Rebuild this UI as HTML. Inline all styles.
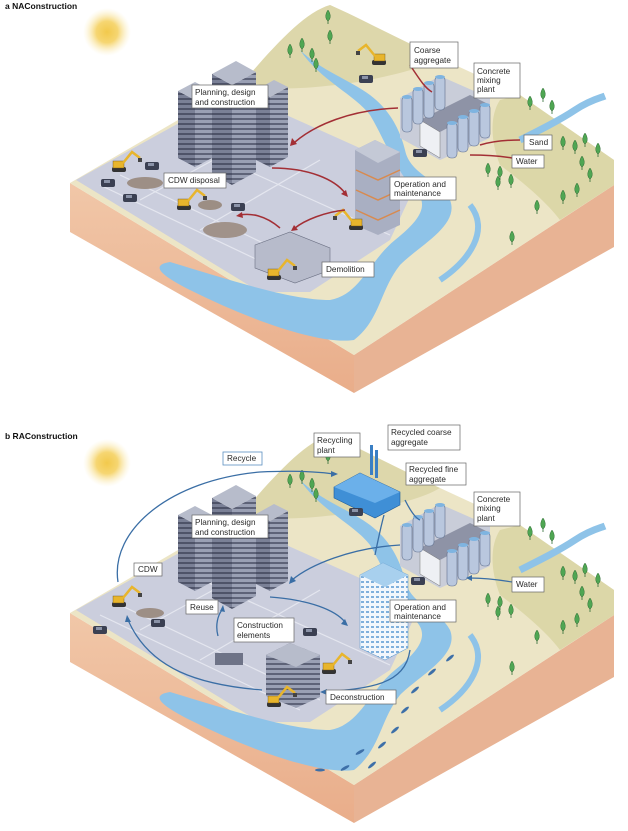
<!DOCTYPE html>
<html><head><meta charset="utf-8"><style>
html,body{margin:0;padding:0;background:#fff;}
svg{display:block}
.lb{font-family:"Liberation Sans",sans-serif;font-size:8.2px;fill:#2a2a2a}
.bx{fill:#fff;stroke:#666;stroke-width:0.7}
.bxb{fill:#fff;stroke:#5b8fc0;stroke-width:0.8}
.ttl{font-family:"Liberation Sans",sans-serif;font-weight:bold;font-size:8.5px;fill:#111}
</style></head><body>
<svg width="628" height="831" viewBox="0 0 628 831" xmlns="http://www.w3.org/2000/svg">
<defs>
<radialGradient id="sun"><stop offset="0" stop-color="#f2c94c"/><stop offset="0.45" stop-color="#f6d672"/><stop offset="1" stop-color="#fbefc4" stop-opacity="0"/></radialGradient>
<pattern id="win" width="6" height="5" patternUnits="userSpaceOnUse"><rect width="6" height="5" fill="#9aa0b4"/><rect y="3" width="6" height="2" fill="#5e6378"/></pattern>
<pattern id="win2" width="6" height="5" patternUnits="userSpaceOnUse"><rect width="6" height="5" fill="#7a8096"/><rect y="3" width="6" height="2" fill="#4e5368"/></pattern>
<pattern id="winw" width="5" height="5" patternUnits="userSpaceOnUse"><rect width="5" height="5" fill="#f2f7fc"/><rect x="1" y="1" width="3" height="2" fill="#7fb0dc"/></pattern>
<linearGradient id="sideL" x1="0" y1="0" x2="0" y2="1"><stop offset="0" stop-color="#f1c7a8"/><stop offset="1" stop-color="#e9ad8a"/></linearGradient>
<g id="tree"><path d="M0,-12 C3,-8 3,-3 0,-1 C-3,-3 -3,-8 0,-12Z" fill="#4fa653" stroke="#2f6b34" stroke-width="0.5"/><line x1="0" y1="-2" x2="0" y2="2" stroke="#2f6b34" stroke-width="0.8"/></g>
<g id="exc"><rect x="-8" y="-3" width="14" height="5" rx="2" fill="#333"/><rect x="-7" y="-9" width="11" height="7" fill="#e8b52c" stroke="#6b5210" stroke-width="0.4"/><path d="M3,-7 L12,-18 L20,-12" fill="none" stroke="#e8b52c" stroke-width="2.5"/><rect x="18" y="-12" width="4" height="4" fill="#444"/></g>
<g id="car"><rect x="-7" y="-4" width="14" height="8" rx="2" fill="#3b4052"/><rect x="-4" y="-3" width="6" height="3" fill="#8b93a8"/></g>
<g id="plant">
<path d="M400,98 l40,-22 l50,22 l0,40 l-50,22 l-40,-22z" fill="#c9cdd9"/>
<path d="M420,120 L470,95 L490,105 L440,132Z" fill="#8e93a6"/>
<path d="M420,120 L440,132 L440,158 L420,146Z" fill="#eef0f4" stroke="#777" stroke-width="0.5"/>
<g fill="#b9c7de" stroke="#5f6f8c" stroke-width="0.6">
<rect x="402" y="96" width="10" height="36" rx="4"/><rect x="413" y="88" width="10" height="36" rx="4"/><rect x="424" y="82" width="10" height="36" rx="4"/><rect x="435" y="76" width="10" height="34" rx="4"/>
<rect x="480" y="104" width="10" height="34" rx="4"/><rect x="469" y="110" width="10" height="36" rx="4"/><rect x="458" y="116" width="10" height="36" rx="4"/><rect x="447" y="122" width="10" height="36" rx="4"/>
</g>
<g fill="#7fb4e0"><ellipse cx="407" cy="97" rx="5" ry="2"/><ellipse cx="418" cy="89" rx="5" ry="2"/><ellipse cx="429" cy="83" rx="5" ry="2"/><ellipse cx="440" cy="77" rx="5" ry="2"/><ellipse cx="485" cy="105" rx="5" ry="2"/><ellipse cx="474" cy="111" rx="5" ry="2"/><ellipse cx="463" cy="117" rx="5" ry="2"/><ellipse cx="452" cy="123" rx="5" ry="2"/></g>
</g>
<g id="towers">
<polygon points="195,167 178,158 178,91 195,100" fill="url(#win2)"/>
<polygon points="195,167 212,158 212,91 195,100" fill="url(#win)"/>
<polygon points="195,100 178,91 195,82 212,91" fill="#b7bccb"/>
<polygon points="270,167 256,160 256,90 270,97" fill="url(#win2)"/>
<polygon points="270,167 288,157 288,87 270,97" fill="url(#win)"/>
<polygon points="270,97 256,90 274,80 288,87" fill="#b7bccb"/>
<polygon points="232,185 212,174 212,74 232,85" fill="url(#win2)"/>
<polygon points="232,185 256,172 256,72 232,85" fill="url(#win)"/>
<polygon points="232,85 212,74 236,61 256,72" fill="#b7bccb"/>
</g>
<g id="base">
<!-- sides -->
<polygon points="70,183 354,355 354,393 70,232" fill="url(#sideL)"/>
<polygon points="354,355 614,185 614,247 354,393" fill="#e8b394"/>
<!-- top -->
<polygon points="70,183 250,78 330,5 440,58 520,95 614,160 614,185 354,355" fill="#ece5c6"/>
<!-- hill -->
<path d="M245,80 C275,45 305,12 330,5 C360,18 400,40 440,58 C420,70 390,75 370,80 C340,85 300,90 270,88Z" fill="#ddd7ab"/>
<path d="M500,100 L520,95 L614,160 L614,185 L560,220 C545,200 520,180 500,165 C490,140 490,115 500,100Z" fill="#dcd7a8"/>
<!-- paved -->
<polygon points="76,180 235,92 420,175 390,240 310,292 260,292" fill="#cbcedd"/>
<path d="M100,185 L300,280 M120,175 L320,270 M180,140 L390,235 M140,200 L250,140 M200,230 L320,160" stroke="#e4e6ef" stroke-width="1.2" fill="none"/>
<!-- river -->
<path d="M300,50 C320,70 350,80 370,95 C390,110 400,130 405,150 C410,175 440,180 450,200 C460,225 420,245 400,265 C380,290 380,320 354,340 C320,345 250,320 190,290 C160,275 150,265 170,262 C230,280 290,300 330,300 C360,295 370,260 395,240 C420,220 430,205 415,190 C395,170 385,140 370,115 C355,95 320,80 300,50Z" fill="#8ec3e8"/>
<path d="M520,140 C540,130 560,120 575,110 C590,100 600,98 605,96" stroke="#8ec3e8" stroke-width="7" fill="none"/>
<path d="M470,205 C490,230 470,260 440,280" stroke="#8ec3e8" stroke-width="6" fill="none"/>
</g>
</defs>

<!-- PANEL A -->
<text x="5" y="9" class="ttl">a NAConstruction</text>
<circle cx="107" cy="32" r="24" fill="url(#sun)"/>
<use href="#base"/>
<use href="#towers"/>
<use href="#plant"/>
<polygon points="355,150 375,140 400,152 400,225 378,235 355,225" fill="#a9afc2"/>
<polygon points="375,140 400,152 378,163 355,150" fill="#c4c9d6"/>
<path d="M356,170 L378,180 L400,170 M356,190 L378,200 L400,190 M356,210 L378,220 L400,210" stroke="#d88a4f" stroke-width="1.5" fill="none"/>
<polygon points="255,245 290,232 330,248 330,270 295,283 255,268" fill="#b7bbcb" stroke="#6a6f82" stroke-width="0.6"/>
<use href="#exc" transform="translate(355,228) scale(-1,1)"/>
<use href="#exc" transform="translate(275,278)"/>
<use href="#exc" transform="translate(120,170)"/>
<use href="#exc" transform="translate(185,208)"/>
<use href="#exc" transform="translate(378,63) scale(-1,1)"/>
<ellipse cx="145" cy="183" rx="18" ry="6" fill="#9d8f86"/><ellipse cx="225" cy="230" rx="22" ry="8" fill="#a0928a"/><ellipse cx="210" cy="205" rx="12" ry="5" fill="#9c8e84"/>
<use href="#car" transform="translate(108,183)"/><use href="#car" transform="translate(130,198)"/><use href="#car" transform="translate(238,207)"/><use href="#car" transform="translate(366,79)"/><use href="#car" transform="translate(420,153)"/><use href="#car" transform="translate(152,166)"/>
<g><use href="#tree" x="328" y="22"/><use href="#tree" x="330" y="42"/><use href="#tree" x="302" y="50"/><use href="#tree" x="290" y="56"/><use href="#tree" x="312" y="60"/><use href="#tree" x="316" y="70"/><use href="#tree" x="543" y="100"/><use href="#tree" x="530" y="108"/><use href="#tree" x="552" y="112"/><use href="#tree" x="563" y="148"/><use href="#tree" x="575" y="152"/><use href="#tree" x="585" y="145"/><use href="#tree" x="598" y="155"/><use href="#tree" x="582" y="168"/><use href="#tree" x="590" y="180"/><use href="#tree" x="488" y="175"/><use href="#tree" x="500" y="178"/><use href="#tree" x="498" y="188"/><use href="#tree" x="511" y="186"/><use href="#tree" x="577" y="195"/><use href="#tree" x="563" y="202"/><use href="#tree" x="537" y="212"/><use href="#tree" x="512" y="243"/></g>
<g fill="none" stroke="#a32f35" stroke-width="1.5">
<path d="M398,108 C350,110 315,125 295,142"/>
<path d="M272,168 C310,168 335,180 345,193"/>
<path d="M345,210 C325,212 305,220 295,228"/>
<path d="M280,228 C265,215 250,213 240,215"/>
<path d="M410,65 C420,80 425,88 432,92"/>
<path d="M520,140 C505,140 490,142 480,145"/>
<path d="M512,158 C500,156 485,155 470,155"/>
</g>
<g fill="#a32f35"><path d="M290,146 l2,-8 l5,6z"/><path d="M348,197 l-7,-3 l5,-4z"/><path d="M291,231 l3,-6 l4,5z"/><path d="M236,216 l6,-4 l1,6z"/></g>
<rect class="bx" x="410" y="42" width="48" height="26"/><text class="lb" x="414" y="53">Coarse</text><text class="lb" x="414" y="63">aggregate</text>
<rect class="bx" x="474" y="63" width="46" height="35"/><text class="lb" x="477" y="74">Concrete</text><text class="lb" x="477" y="83">mixing</text><text class="lb" x="477" y="92">plant</text>
<rect class="bx" x="192" y="85" width="76" height="23"/><text class="lb" x="195" y="95">Planning, design</text><text class="lb" x="195" y="105">and construction</text>
<rect class="bx" x="524" y="135" width="28" height="15"/><text class="lb" x="529" y="145">Sand</text>
<rect class="bx" x="512" y="155" width="32" height="13"/><text class="lb" x="516" y="164">Water</text>
<rect class="bx" x="164" y="173" width="62" height="15"/><text class="lb" x="168" y="183">CDW disposal</text>
<rect class="bx" x="390" y="177" width="66" height="23"/><text class="lb" x="394" y="187">Operation and</text><text class="lb" x="394" y="196">maintenance</text>
<rect class="bx" x="322" y="262" width="52" height="15"/><text class="lb" x="326" y="272">Demolition</text>

<!-- PANEL B -->
<text x="5" y="439" class="ttl">b RAConstruction</text>
<circle cx="107" cy="463" r="24" fill="url(#sun)"/>
<g transform="translate(0,430)"><use href="#base"/></g>
<g fill="#3d6fa8"><ellipse cx="320" cy="770" rx="5" ry="1.5"/><ellipse cx="345" cy="768" rx="5" ry="1.5" transform="rotate(-30 345 768)"/><ellipse cx="372" cy="765" rx="5" ry="1.5" transform="rotate(-40 372 765)"/><ellipse cx="360" cy="752" rx="5" ry="1.5" transform="rotate(-30 360 752)"/><ellipse cx="382" cy="745" rx="5" ry="1.5" transform="rotate(-40 382 745)"/><ellipse cx="395" cy="730" rx="5" ry="1.5" transform="rotate(-40 395 730)"/><ellipse cx="405" cy="710" rx="5" ry="1.5" transform="rotate(-40 405 710)"/><ellipse cx="415" cy="690" rx="5" ry="1.5" transform="rotate(-40 415 690)"/><ellipse cx="432" cy="672" rx="5" ry="1.5" transform="rotate(-40 432 672)"/><ellipse cx="450" cy="658" rx="5" ry="1.5" transform="rotate(-40 450 658)"/></g>
<g transform="translate(0,424)"><use href="#towers"/></g>
<g transform="translate(0,428)"><use href="#plant"/></g>
<polygon points="334,487 360,473 400,492 400,505 375,518 334,498" fill="#3f8fd6" stroke="#1d5a98" stroke-width="0.6"/>
<polygon points="334,487 360,473 400,492 375,503" fill="#6bb0ea"/>
<rect x="370" y="445" width="3" height="30" fill="#3a7fc4"/><rect x="375" y="450" width="3" height="28" fill="#3a7fc4"/>
<polygon points="360,575 383,563 408,575 408,648 385,660 360,648" fill="url(#winw)" stroke="#6aa0d0" stroke-width="0.6"/>
<polygon points="360,575 383,563 408,575 385,587" fill="#a8d0ee"/>
<polygon points="266,655 290,643 320,655 320,697 296,708 266,696" fill="url(#win)"/>
<polygon points="266,655 290,643 320,655 296,667" fill="#b7bccb"/>
<rect x="215" y="653" width="28" height="12" fill="#6e7387"/>
<use href="#exc" transform="translate(275,705)"/><use href="#exc" transform="translate(330,672)"/><use href="#exc" transform="translate(120,605)"/>
<ellipse cx="150" cy="613" rx="14" ry="5" fill="#9d8f86"/>
<use href="#car" transform="translate(100,630)"/><use href="#car" transform="translate(158,623)"/><use href="#car" transform="translate(310,632)"/><use href="#car" transform="translate(356,512)"/><use href="#car" transform="translate(418,581)"/>
<g><use href="#tree" x="328" y="462"/><use href="#tree" x="302" y="482"/><use href="#tree" x="290" y="486"/><use href="#tree" x="312" y="490"/><use href="#tree" x="316" y="500"/><use href="#tree" x="543" y="530"/><use href="#tree" x="530" y="538"/><use href="#tree" x="552" y="542"/><use href="#tree" x="563" y="578"/><use href="#tree" x="575" y="582"/><use href="#tree" x="585" y="575"/><use href="#tree" x="598" y="585"/><use href="#tree" x="582" y="598"/><use href="#tree" x="590" y="610"/><use href="#tree" x="488" y="605"/><use href="#tree" x="500" y="608"/><use href="#tree" x="498" y="618"/><use href="#tree" x="511" y="616"/><use href="#tree" x="577" y="625"/><use href="#tree" x="563" y="632"/><use href="#tree" x="537" y="642"/><use href="#tree" x="512" y="673"/></g>
<g fill="none" stroke="#3a6ea5" stroke-width="1.3">
<path d="M118,582 C110,530 170,480 260,472 C300,470 320,472 334,474"/>
<path d="M400,545 C350,548 310,565 292,580"/>
<path d="M270,597 C310,600 335,610 345,622"/>
<path d="M410,650 C405,685 370,688 325,692"/>
<path d="M262,690 C200,685 150,670 128,620"/>
<path d="M218,636 C215,625 218,615 222,610"/>
<path d="M384,515 C380,530 378,540 375,555"/>
<path d="M405,500 C410,510 415,518 420,520"/>
<path d="M512,582 C500,580 485,578 470,578"/>
</g>
<g fill="#3a6ea5"><path d="M338,474 l-7,-3 l0,6z"/><path d="M289,584 l2,-8 l5,5z"/><path d="M348,626 l-7,-2 l4,-5z"/><path d="M320,692 l7,-3 l0,6z"/><path d="M127,615 l4,7 l-6,0z"/><path d="M223,605 l2,7 l-5,-1z"/><path d="M466,578 l6,-3 l0,6z"/></g>
<rect class="bx" x="314" y="433" width="46" height="24"/><text class="lb" x="317" y="443">Recycling</text><text class="lb" x="317" y="453">plant</text>
<rect class="bx" x="388" y="425" width="72" height="25"/><text class="lb" x="391" y="435">Recycled coarse</text><text class="lb" x="391" y="445">aggregate</text>
<rect class="bxb" x="223" y="452" width="39" height="13"/><text class="lb" x="227" y="461">Recycle</text>
<rect class="bx" x="406" y="463" width="60" height="22"/><text class="lb" x="409" y="472">Recycled fine</text><text class="lb" x="409" y="482">aggregate</text>
<rect class="bx" x="474" y="492" width="46" height="34"/><text class="lb" x="477" y="502">Concrete</text><text class="lb" x="477" y="511">mixing</text><text class="lb" x="477" y="521">plant</text>
<rect class="bx" x="192" y="515" width="76" height="23"/><text class="lb" x="195" y="525">Planning, design</text><text class="lb" x="195" y="535">and construction</text>
<rect class="bx" x="134" y="563" width="28" height="13"/><text class="lb" x="138" y="572">CDW</text>
<rect class="bx" x="512" y="577" width="32" height="15"/><text class="lb" x="516" y="587">Water</text>
<rect class="bx" x="186" y="600" width="32" height="14"/><text class="lb" x="190" y="610">Reuse</text>
<rect class="bx" x="390" y="600" width="66" height="22"/><text class="lb" x="394" y="610">Operation and</text><text class="lb" x="394" y="619">maintenance</text>
<rect class="bx" x="234" y="618" width="60" height="24"/><text class="lb" x="237" y="628">Construction</text><text class="lb" x="237" y="638">elements</text>
<rect class="bx" x="326" y="690" width="70" height="14"/><text class="lb" x="330" y="700">Deconstruction</text>
</svg>
</body></html>
